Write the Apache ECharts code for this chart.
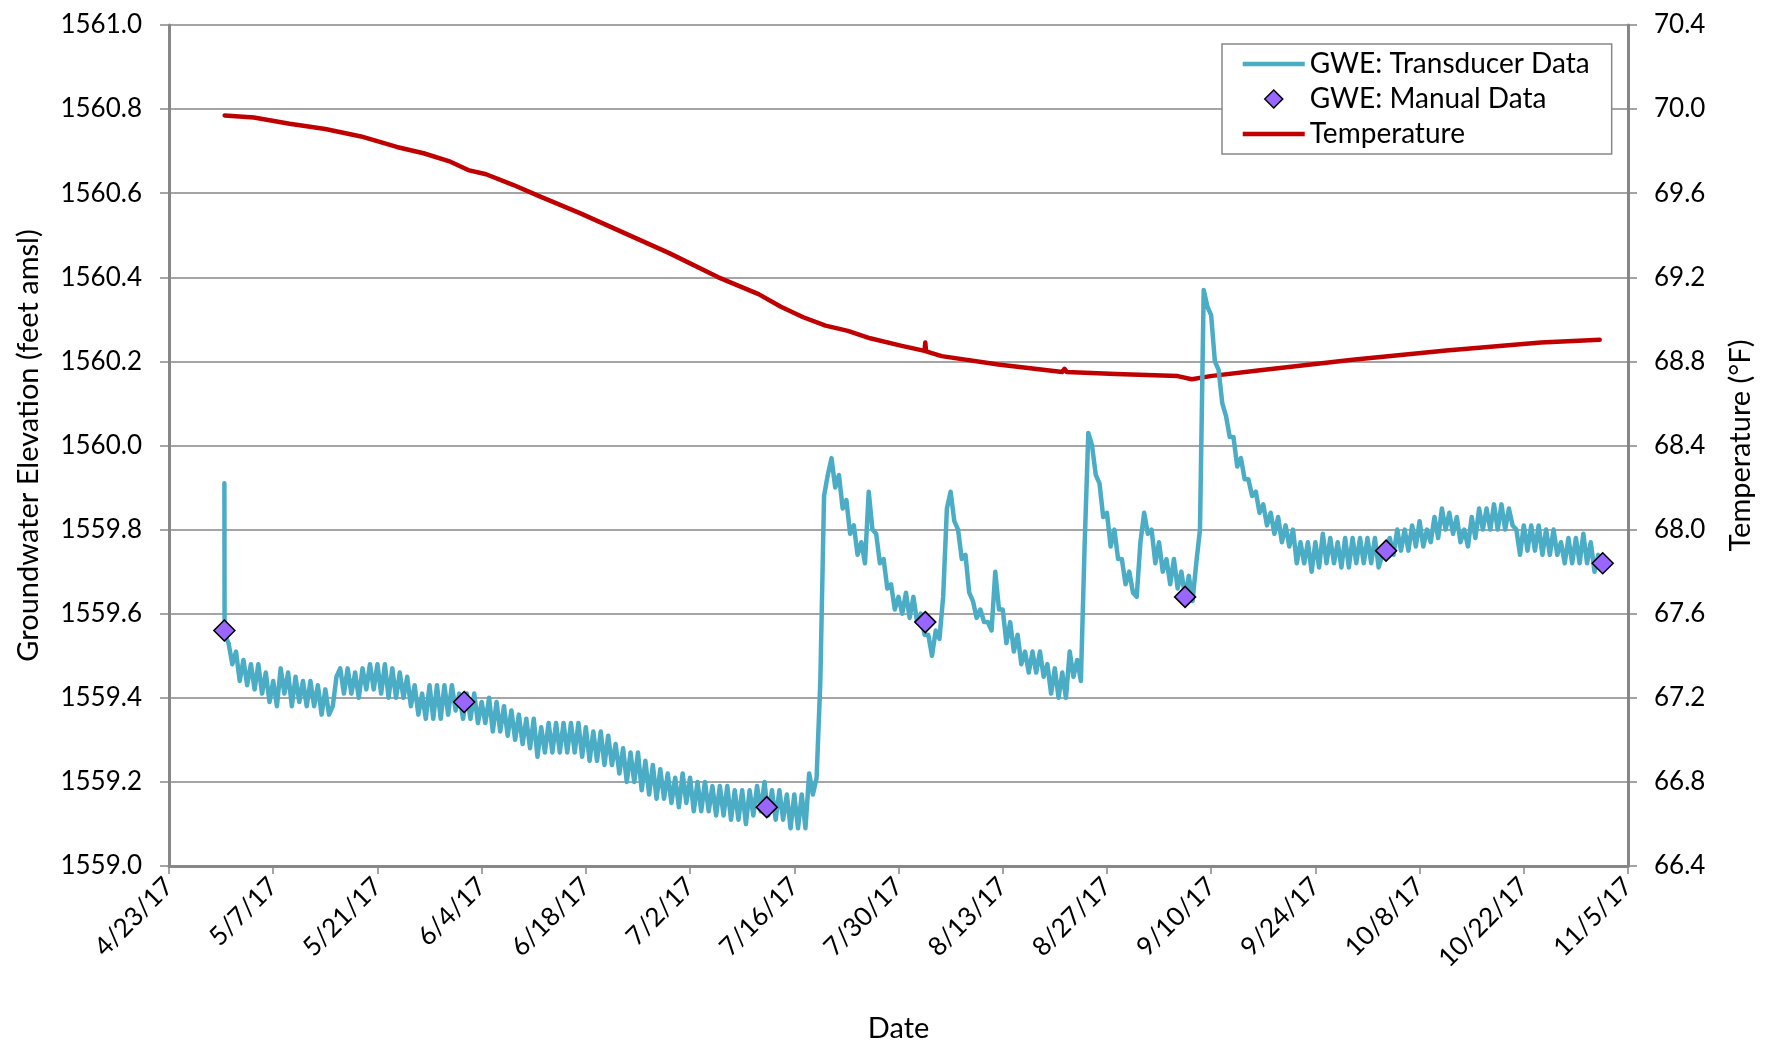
<!DOCTYPE html>
<html><head><meta charset="utf-8">
<script src="https://cdn.jsdelivr.net/npm/echarts@6/dist/echarts.min.js"></script>
<style>html,body{margin:0;padding:0;background:#fff}#c{width:1770px;height:1041px}</style>
</head><body><div id="c"></div>
<script>
// ---- data (x = days since 4/23/17) ----
const baseDate = [2017, 3, 23];
const gweFirstDay = 8;
// initial transducer readings (spike at install)
const gweLeadIn = [[7.44, 1559.91], [7.47, 1559.55]];
// transducer GWE read at the start of each day (d) ...
const gweDayStart = [
  1559.53,1559.51,1559.49,1559.48,1559.48,1559.46,1559.44,1559.47,1559.46,1559.45,
  1559.44,1559.44,1559.43,1559.42,1559.38,1559.47,1559.47,1559.46,1559.47,1559.48,
  1559.48,1559.48,1559.47,1559.46,1559.45,1559.43,1559.41,1559.43,1559.43,1559.43,
  1559.43,1559.41,1559.41,1559.41,1559.39,1559.40,1559.39,1559.38,1559.37,1559.36,
  1559.35,1559.35,1559.33,1559.34,1559.34,1559.34,1559.34,1559.34,1559.33,1559.32,
  1559.32,1559.31,1559.29,1559.28,1559.27,1559.27,1559.25,1559.24,1559.23,1559.22,
  1559.21,1559.22,1559.21,1559.20,1559.20,1559.19,1559.19,1559.19,1559.18,1559.18,
  1559.18,1559.19,1559.20,1559.18,1559.18,1559.17,1559.17,1559.17,1559.22,1559.21,
  1559.88,1559.97,1559.93,1559.87,1559.81,1559.77,1559.89,1559.79,1559.73,1559.67,
  1559.64,1559.65,1559.64,1559.60,1559.55,1559.56,1559.64,1559.89,1559.80,1559.74,
  1559.63,1559.61,1559.58,1559.70,1559.61,1559.58,1559.55,1559.51,1559.51,1559.51,
  1559.48,1559.47,1559.46,1559.51,1559.49,1559.76,1560.00,1559.91,1559.84,1559.80,
  1559.73,1559.70,1559.64,1559.84,1559.80,1559.77,1559.73,1559.73,1559.70,1559.69,
  1559.72,1560.37,1560.31,1560.18,1560.07,1560.02,1559.97,1559.92,1559.89,1559.86,
  1559.84,1559.83,1559.81,1559.80,1559.77,1559.77,1559.77,1559.79,1559.78,1559.77,
  1559.78,1559.78,1559.78,1559.78,1559.78,1559.74,1559.78,1559.80,1559.80,1559.81,
  1559.82,1559.80,1559.83,1559.85,1559.84,1559.83,1559.80,1559.83,1559.85,1559.85,
  1559.86,1559.86,1559.85,1559.80,1559.81,1559.81,1559.81,1559.80,1559.80,1559.77,
  1559.78,1559.78,1559.79,1559.77,1559.74
];
// ... and at mid-day (d + 0.5)
const gweMidDay = [
  1559.48,1559.44,1559.43,1559.42,1559.41,1559.39,1559.38,1559.41,1559.38,1559.39,
  1559.38,1559.38,1559.36,1559.36,1559.45,1559.41,1559.41,1559.40,1559.42,1559.42,
  1559.41,1559.40,1559.40,1559.40,1559.38,1559.36,1559.35,1559.35,1559.35,1559.36,
  1559.37,1559.35,1559.35,1559.34,1559.34,1559.32,1559.32,1559.31,1559.30,1559.29,
  1559.28,1559.26,1559.27,1559.27,1559.27,1559.27,1559.27,1559.26,1559.25,1559.25,
  1559.24,1559.24,1559.22,1559.20,1559.20,1559.18,1559.17,1559.16,1559.16,1559.15,
  1559.14,1559.15,1559.13,1559.13,1559.13,1559.12,1559.12,1559.11,1559.11,1559.10,
  1559.12,1559.13,1559.12,1559.11,1559.11,1559.09,1559.09,1559.09,1559.17,1559.44,
  1559.93,1559.90,1559.85,1559.79,1559.74,1559.72,1559.80,1559.72,1559.66,1559.61,
  1559.60,1559.59,1559.58,1559.55,1559.50,1559.54,1559.85,1559.82,1559.73,1559.65,
  1559.59,1559.58,1559.56,1559.61,1559.53,1559.51,1559.48,1559.46,1559.46,1559.45,
  1559.41,1559.40,1559.40,1559.45,1559.44,1560.03,1559.93,1559.83,1559.76,1559.73,
  1559.67,1559.65,1559.77,1559.79,1559.72,1559.70,1559.67,1559.66,1559.64,1559.63,
  1559.80,1560.33,1560.20,1560.10,1560.02,1559.95,1559.92,1559.88,1559.84,1559.81,
  1559.79,1559.77,1559.76,1559.72,1559.72,1559.70,1559.71,1559.72,1559.72,1559.71,
  1559.71,1559.72,1559.72,1559.72,1559.71,1559.76,1559.74,1559.75,1559.75,1559.76,
  1559.76,1559.77,1559.78,1559.80,1559.79,1559.77,1559.76,1559.78,1559.80,1559.80,
  1559.80,1559.80,1559.81,1559.74,1559.75,1559.75,1559.74,1559.74,1559.74,1559.72,
  1559.72,1559.72,1559.72,1559.70,null
];
const manualDays   = [7.44, 39.65, 80.3, 101.6, 136.5, 163.5, 192.6];
const manualValues = [1559.56, 1559.39, 1559.14, 1559.58, 1559.64, 1559.75, 1559.72];
const tempDays = [7.48, 11.4, 16.2, 21.0, 25.8, 30.6, 34.2, 37.8, 40.2, 42.6, 46.2, 49.8, 55.2, 61.2, 67.2,
  73.8, 79.2, 82.2, 85.2, 88.2, 91.2, 94.2, 98.3, 101.5, 101.6, 101.7, 103.8, 111.4, 120.0, 120.3, 120.6,
  127.2, 135.5, 137.4, 139.9, 146.3, 159.0, 171.6, 184.3, 192.2];
const tempValues = [69.97, 69.96, 69.93, 69.905, 69.87, 69.82, 69.79, 69.75, 69.71, 69.69, 69.64, 69.585, 69.505, 69.41, 69.315,
  69.20, 69.12, 69.06, 69.01, 68.97, 68.945, 68.91, 68.875, 68.85, 68.89, 68.848, 68.825, 68.785, 68.75, 68.765, 68.75,
  68.74, 68.73, 68.715, 68.73, 68.757, 68.808, 68.852, 68.89, 68.903];
const gweAxis  = {min: 1559.0, max: 1561.0, step: 0.2};
const tempAxis = {min: 66.4, max: 70.4, step: 0.4};
const xAxisSpan = {min: 0, max: 196, step: 14};

// ---- build series ----
const gweSeries = gweLeadIn.slice();
gweDayStart.forEach((v, i) => {
  const d = gweFirstDay + i;
  gweSeries.push([d, v]);
  if (gweMidDay[i] != null) gweSeries.push([d + 0.5, gweMidDay[i]]);
});
const manualSeries = manualDays.map((d, i) => [d, manualValues[i]]);
const tempSeries = tempDays.map((d, i) => [d, tempValues[i]]);

const base = Date.UTC(baseDate[0], baseDate[1], baseDate[2]);
function dayLabel(d) {
  const dt = new Date(base + Math.round(d) * 86400000);
  return (dt.getUTCMonth() + 1) + '/' + dt.getUTCDate() + '/' + String(dt.getUTCFullYear()).slice(2);
}
const FONT = 'Lato, "Open Sans", sans-serif';
const AX = '#878787';
// legend icons: padded paths so that the stretched icon keeps its shape
const ICON_LINE = 'path://M0,0 M62,20 M0,7.8 L62,7.8 L62,12.2 L0,12.2 Z';
const ICON_DIAMOND = 'path://M0,0 M62,20 M31,1 L40,10 L31,19 L22,10 Z';

const chart = echarts.init(document.getElementById('c'), null, {renderer: 'canvas'});
chart.setOption({
  animation: false,
  backgroundColor: '#fff',
  textStyle: {fontFamily: FONT},
  grid: {left: 169, right: 142, top: 25, bottom: 175, containLabel: false, outerBoundsMode: 'none'},
  legend: {
    orient: 'vertical', left: 1222, top: 44,
    backgroundColor: '#fff', borderColor: '#888', borderWidth: 1.5,
    padding: [4, 22, 4, 20],
    itemWidth: 62, itemHeight: 20, itemGap: 3,
    textStyle: {fontFamily: FONT, fontSize: 28, color: '#000', lineHeight: 32},
    data: [
      {name: 'GWE: Transducer Data', icon: ICON_LINE, itemStyle: {color: '#4BACC6', borderWidth: 0}},
      {name: 'GWE: Manual Data', icon: ICON_DIAMOND, itemStyle: {color: '#9966FF', borderColor: '#000', borderWidth: 1.5}},
      {name: 'Temperature', icon: ICON_LINE, itemStyle: {color: '#C00000', borderWidth: 0}}
    ]
  },
  xAxis: {
    type: 'value', min: xAxisSpan.min, max: xAxisSpan.max, interval: xAxisSpan.step,
    name: 'Date', nameLocation: 'middle', nameGap: 148,
    nameTextStyle: {fontFamily: FONT, fontSize: 29, color: '#000'},
    axisLine: {show: true, onZero: false, lineStyle: {color: AX, width: 3}},
    axisTick: {show: true, length: 8, lineStyle: {color: AX, width: 1.5}},
    splitLine: {show: false},
    axisLabel: {rotate: 45, margin: 16, fontSize: 26, color: '#000', fontFamily: FONT, formatter: dayLabel}
  },
  yAxis: [{
    type: 'value', min: gweAxis.min, max: gweAxis.max, interval: gweAxis.step, position: 'left',
    name: 'Groundwater Elevation (feet amsl)', nameLocation: 'middle', nameGap: 126,
    nameTextStyle: {fontFamily: FONT, fontSize: 29, color: '#000'},
    axisLine: {show: true, lineStyle: {color: AX, width: 3}},
    axisTick: {show: true, length: 9, lineStyle: {color: AX, width: 1.5}},
    splitLine: {show: true, lineStyle: {color: AX, width: 1.5}},
    axisLabel: {margin: 27, fontSize: 26, color: '#000', fontFamily: FONT, formatter: v => v.toFixed(1)}
  }, {
    type: 'value', min: tempAxis.min, max: tempAxis.max, interval: tempAxis.step, position: 'right',
    name: 'Temperature (\u00B0F)', nameLocation: 'middle', nameGap: 98,
    nameTextStyle: {fontFamily: FONT, fontSize: 29, color: '#000'},
    axisLine: {show: true, lineStyle: {color: AX, width: 3}},
    axisTick: {show: true, length: 9, lineStyle: {color: AX, width: 1.5}},
    splitLine: {show: false},
    axisLabel: {margin: 26, fontSize: 26, color: '#000', fontFamily: FONT, formatter: v => v.toFixed(1)}
  }],
  series: [{
    name: 'GWE: Transducer Data', type: 'line', yAxisIndex: 0, data: gweSeries,
    symbol: 'none', showSymbol: false, z: 3,
    lineStyle: {color: '#4BACC6', width: 4.5, cap: 'round', join: 'round'},
    itemStyle: {color: '#4BACC6'}
  }, {
    name: 'GWE: Manual Data', type: 'scatter', yAxisIndex: 0, data: manualSeries,
    symbol: 'diamond', symbolSize: 21, z: 5,
    itemStyle: {color: '#9966FF', borderColor: '#000', borderWidth: 1.5, opacity: 1}
  }, {
    name: 'Temperature', type: 'line', yAxisIndex: 1, data: tempSeries,
    symbol: 'none', showSymbol: false, z: 2,
    lineStyle: {color: '#C00000', width: 4.5, cap: 'round', join: 'round'},
    itemStyle: {color: '#C00000'}
  }]
});
</script></body></html>
